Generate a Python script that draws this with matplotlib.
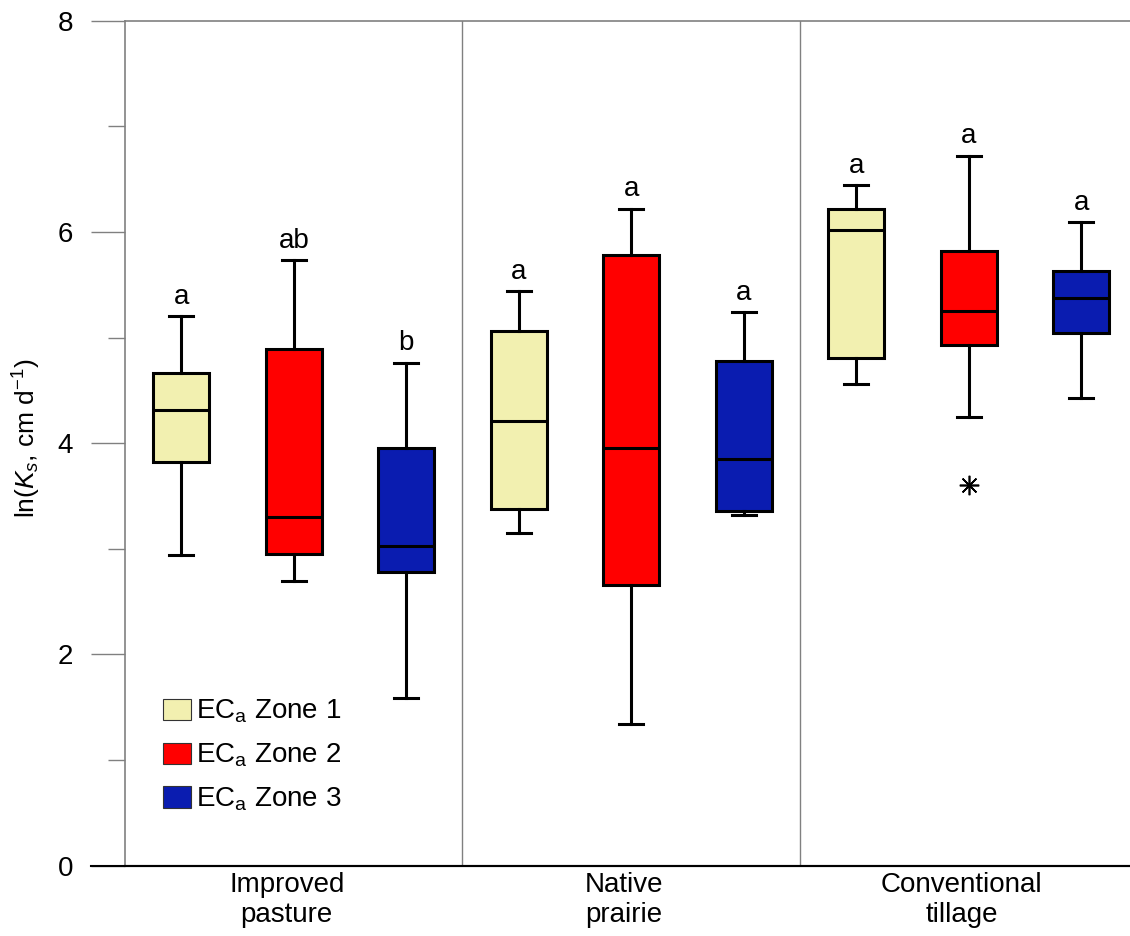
import matplotlib
matplotlib.use('Agg')
import matplotlib.pyplot as plt
from matplotlib.patches import Patch
from matplotlib.lines import Line2D
from matplotlib.ticker import MultipleLocator
from matplotlib.transforms import ScaledTranslation

plt.rcParams['font.family'] = ['Liberation Sans', 'DejaVu Sans']
plt.rcParams['mathtext.fontset'] = 'custom'
plt.rcParams['mathtext.rm'] = 'Liberation Sans'
plt.rcParams['mathtext.it'] = 'Liberation Sans:italic'
plt.rcParams['mathtext.bf'] = 'Liberation Sans:bold'

# Land-use groups and EC_a zones
land_uses = ['Improved\npasture', 'Native\nprairie', 'Conventional\ntillage']
zone_labels = ['EC$_\\mathrm{a}$ Zone 1', 'EC$_\\mathrm{a}$ Zone 2', 'EC$_\\mathrm{a}$ Zone 3']
zone_colors = ['#F2F0B0', '#FF0000', '#0A1CB0']

# Box statistics of ln(Ks): one row per land use, one entry per zone
whisker_low = [[2.94, 2.69, 1.59], [3.15, 1.34, 3.32], [4.56, 4.25, 4.43]]
q1 = [[3.82, 2.95, 2.78], [3.38, 2.66, 3.36], [4.81, 4.93, 5.04]]
median = [[4.31, 3.30, 3.03], [4.21, 3.95, 3.85], [6.02, 5.25, 5.37]]
q3 = [[4.66, 4.89, 3.95], [5.06, 5.78, 4.78], [6.22, 5.82, 5.63]]
whisker_high = [[5.20, 5.73, 4.76], [5.44, 6.22, 5.24], [6.44, 6.72, 6.09]]
outliers = [[[], [], []], [[], [], []], [[], [3.60], []]]
letters = [['a', 'ab', 'b'], ['a', 'a', 'a'], ['a', 'a', 'a']]

fig = plt.figure(figsize=(11.3, 9.36), dpi=100)
ax = fig.add_axes([125 / 1130, 70.5 / 936, 1005 / 1130, 844.8 / 936])

GREY = '#808080'
LW = 2.2
box_width = 0.167
cap_width = 0.071

for z in range(3):
    stats, positions = [], []
    for g in range(3):
        stats.append(dict(med=median[g][z], q1=q1[g][z], q3=q3[g][z],
                          whislo=whisker_low[g][z], whishi=whisker_high[g][z],
                          fliers=outliers[g][z]))
        positions.append(g + (2 * z + 1) / 6)
    ax.bxp(stats, positions=positions, widths=box_width, capwidths=cap_width,
           patch_artist=True, manage_ticks=False, showfliers=True,
           boxprops=dict(facecolor=zone_colors[z], edgecolor='black', linewidth=LW),
           medianprops=dict(color='black', linewidth=LW),
           whiskerprops=dict(color='black', linewidth=LW),
           capprops=dict(color='black', linewidth=LW),
           flierprops=dict(marker=(8, 2, 0), markersize=14, markeredgecolor='black',
                           markeredgewidth=1.2, linestyle='none'))
    for g in range(3):
        ax.annotate(letters[g][z], xy=(positions[g], whisker_high[g][z]),
                    xytext=(0, 9), textcoords='offset points',
                    ha='center', va='baseline', fontsize=20)

# Separators between land-use groups
for g in (1, 2):
    ax.axvline(g, color=GREY, linewidth=1.0, zorder=0)

ax.set_xlim(0, 1005 / 337.5)
ax.set_ylim(0, 8)

ax.set_xticks([g + 0.5 for g in range(3)])
ax.set_xticklabels(land_uses, fontsize=20)
ax.tick_params(axis='x', length=0, pad=5)
shift = ScaledTranslation(-7 / 100, 0, fig.dpi_scale_trans)
for lbl in ax.get_xticklabels():
    lbl.set_transform(lbl.get_transform() + shift)

ax.yaxis.set_major_locator(MultipleLocator(2))
ax.yaxis.set_minor_locator(MultipleLocator(1))
ax.tick_params(axis='y', which='major', length=24.5, width=1.0, color=GREY,
               labelsize=20, pad=13)
ax.tick_params(axis='y', which='minor', length=12.2, width=1.0, color=GREY)

for side in ('top', 'left'):
    ax.spines[side].set_color(GREY)
    ax.spines[side].set_linewidth(1.2)
ax.spines['right'].set_visible(False)
ax.spines['bottom'].set_color('black')
ax.spines['bottom'].set_linewidth(1.5)
ax.add_line(Line2D([-34 / 1005, 1], [0, 0], transform=ax.transAxes,
                   color='black', linewidth=1.5, clip_on=False, zorder=5))

fig.text(27 / 1130, (936 - 438.5) / 936, 'ln($K_s$, cm d$^{-1}$)',
         rotation=90, ha='center', va='center', fontsize=19)

handles = [Patch(facecolor=c, edgecolor='#333333', linewidth=0.8) for c in zone_colors]
ax.legend(handles, zone_labels, loc='upper left', bbox_to_anchor=(0.0378, 0.1983),
          frameon=False, fontsize=20, borderpad=0, borderaxespad=0,
          handlelength=1.0, handleheight=0.8, handletextpad=0.2, labelspacing=0.59)

fig.savefig('out.png', dpi=100)
